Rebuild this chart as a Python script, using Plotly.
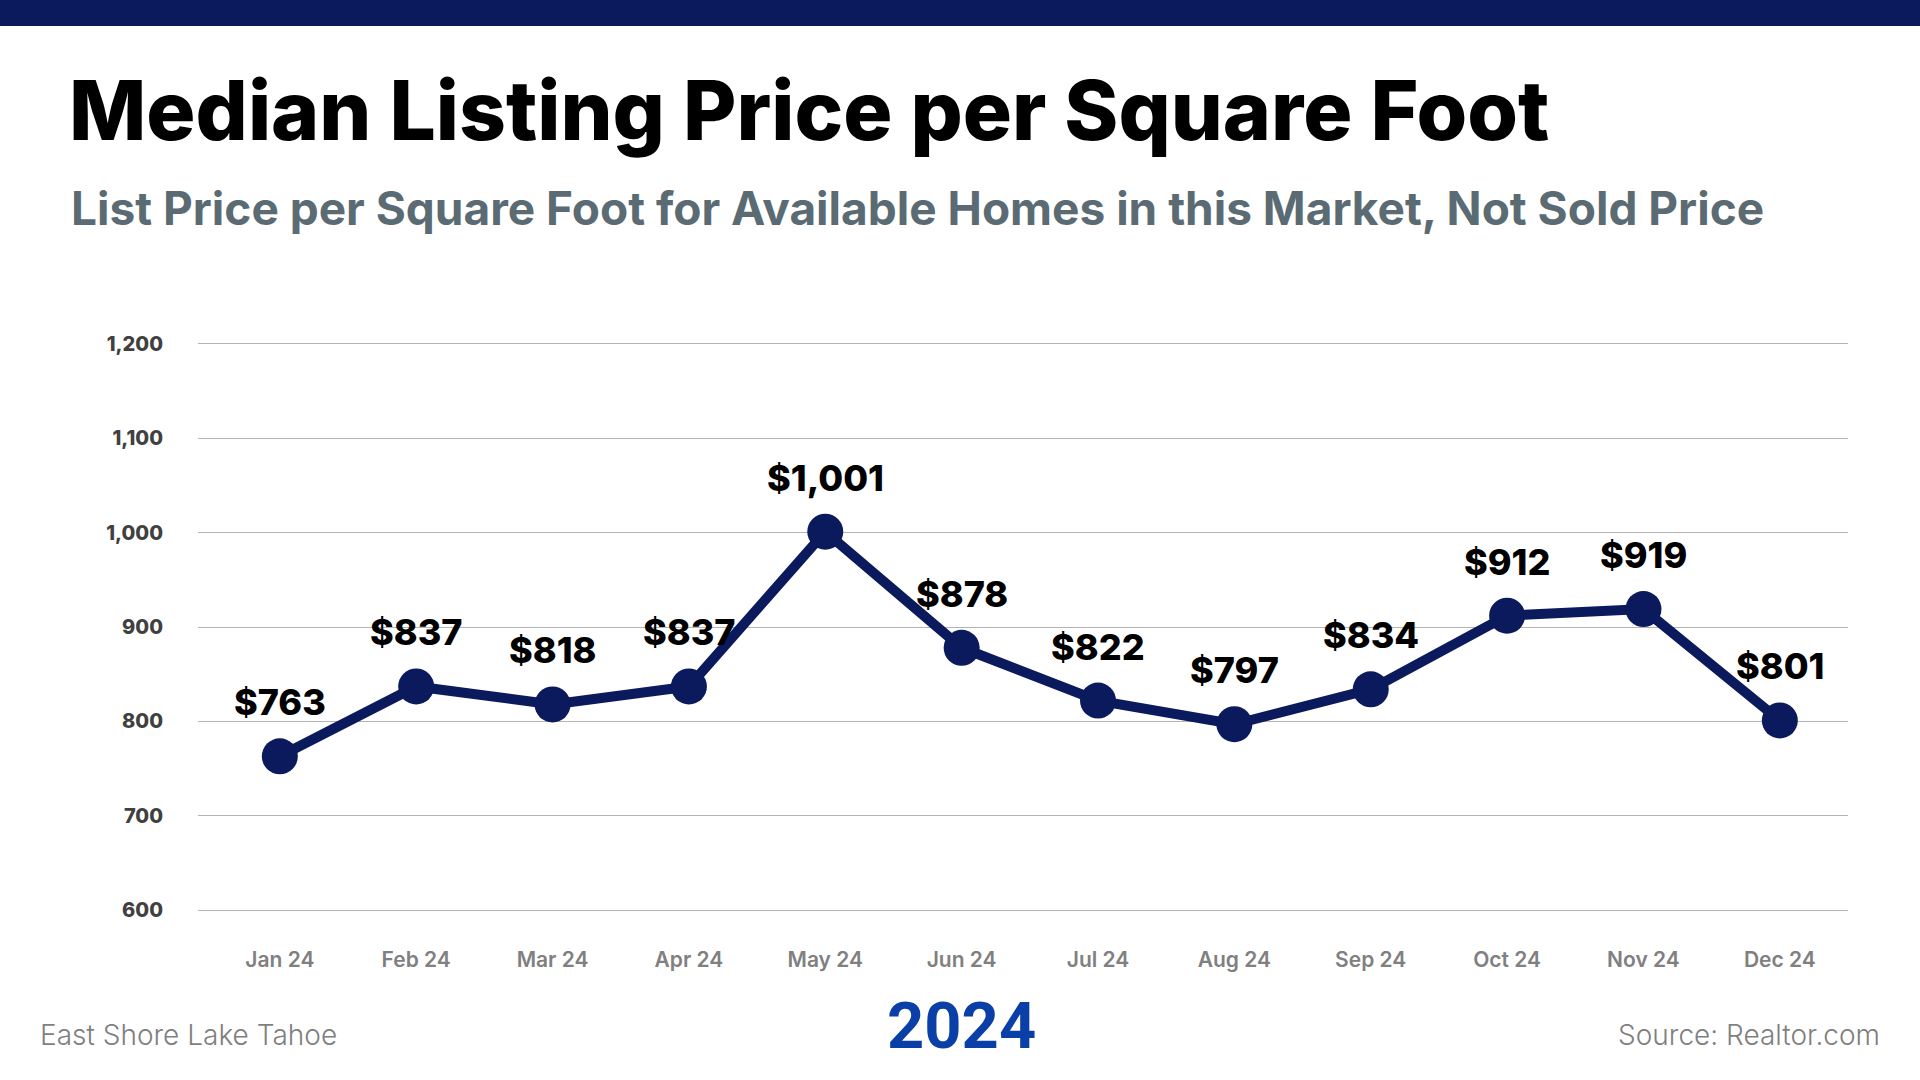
import plotly.graph_objects as go

months = ["Jan 24", "Feb 24", "Mar 24", "Apr 24", "May 24", "Jun 24",
          "Jul 24", "Aug 24", "Sep 24", "Oct 24", "Nov 24", "Dec 24"]
price_per_sqft = [763, 837, 818, 837, 1001, 878, 822, 797, 834, 912, 919, 801]
y_ticks = [600, 700, 800, 900, 1000, 1100, 1200]

title_text = "Median Listing Price per Square Foot"
subtitle_text = "List Price per Square Foot for Available Homes in this Market, Not Sold Price"
left_footer = "East Shore Lake Tahoe"
center_footer = "2024"
right_footer = "Source: Realtor.com"

W, H = 1920, 1080
ML, MR, MT, MB = 198, 72, 341, 167
PW, PH = W - ML - MR, H - MT - MB

def px_x(x):
    return (x - ML) / PW

def px_y(y):
    return (H - MB - y) / PH

NAVY = "#0a1a5c"
FONT = "Inter"

x_idx = list(range(len(months)))

fig = go.Figure()
fig.add_trace(go.Scatter(
    x=x_idx, y=price_per_sqft, mode="lines+markers",
    line=dict(color=NAVY, width=10),
    marker=dict(color=NAVY, size=36),
    hoverinfo="skip", showlegend=False, cliponaxis=False,
))

for i, v in zip(x_idx, price_per_sqft):
    fig.add_annotation(x=i, y=v, text=f"${v:,}", showarrow=False,
                       yshift=54, yanchor="middle",
                       font=dict(family=FONT, size=36, color="#000000", weight=800))

fig.add_shape(type="rect", xref="paper", yref="paper",
              x0=px_x(0), x1=px_x(W), y0=px_y(26), y1=px_y(0),
              fillcolor=NAVY, line=dict(width=0), layer="above")

fig.add_annotation(xref="paper", yref="paper", x=px_x(67), y=px_y(110),
                   xanchor="left", yanchor="middle", showarrow=False,
                   text=title_text,
                   font=dict(family=FONT, size=82, color="#000000", weight=800))
fig.add_annotation(xref="paper", yref="paper", x=px_x(69), y=px_y(208),
                   xanchor="left", yanchor="middle", showarrow=False,
                   text=subtitle_text,
                   font=dict(family=FONT, size=46, color="#5b6b74", weight=700))
fig.add_annotation(xref="paper", yref="paper", x=px_x(38), y=px_y(1035),
                   xanchor="left", yanchor="middle", showarrow=False,
                   text=left_footer,
                   font=dict(family=FONT, size=28, color="#7f7f7f", weight=300))
fig.add_annotation(xref="paper", yref="paper", x=px_x(961), y=px_y(1026),
                   xanchor="center", yanchor="middle", showarrow=False,
                   text=center_footer,
                   font=dict(family="Roboto", size=65, color="#0a3fa8", weight=700))
fig.add_annotation(xref="paper", yref="paper", x=px_x(1882), y=px_y(1035),
                   xanchor="right", yanchor="middle", showarrow=False,
                   text=right_footer,
                   font=dict(family=FONT, size=28, color="#7f7f7f", weight=300))

fig.update_layout(
    width=W, height=H,
    margin=dict(l=ML, r=MR, t=MT, b=MB),
    paper_bgcolor="white", plot_bgcolor="white",
    xaxis=dict(range=[-0.6, 11.5], tickmode="array", tickvals=x_idx, ticktext=months,
               showgrid=False, zeroline=False, showline=False, ticks="",
               ticklabelstandoff=32,
               tickfont=dict(family=FONT, size=21, color="#808080", weight=600)),
    yaxis=dict(range=[597, 1203], tickmode="array", tickvals=y_ticks,
               ticktext=[f"{t:,}" for t in y_ticks],
               showgrid=True, gridcolor="#b4b4b4", gridwidth=1.3,
               zeroline=False, showline=False, ticks="",
               ticklabelstandoff=34,
               tickfont=dict(family=FONT, size=20, color="#404040", weight=800)),
)

fig.write_html("out.html", config={"displayModeBar": False},
               post_script="document.body.style.margin='0';document.body.style.padding='0';")
